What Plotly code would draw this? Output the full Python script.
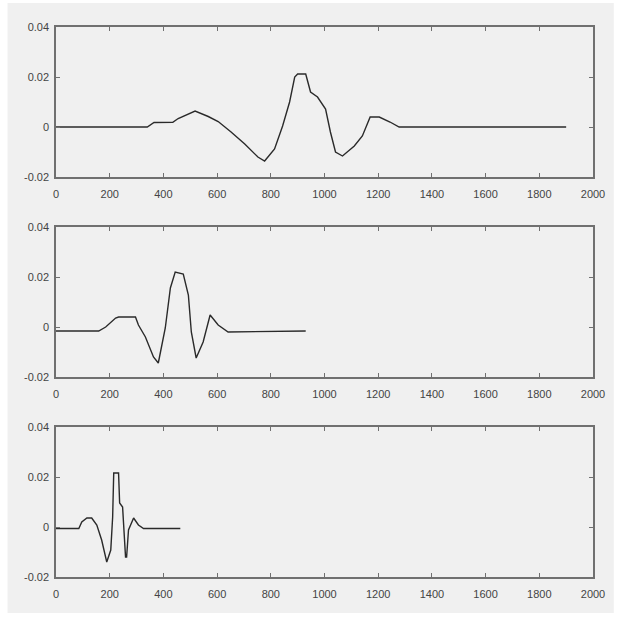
import plotly.graph_objects as go
from plotly.subplots import make_subplots

# ---- data ----
top_x = [0, 340, 365, 435, 455, 518, 567, 604, 652, 703, 752, 777, 814, 844, 870, 889,
         900, 930, 948, 974, 1004, 1022, 1041, 1067, 1111, 1141, 1170, 1204, 1244, 1278, 1900]
top_y = [0, 0, 0.0018, 0.0019, 0.0034, 0.0064, 0.0042, 0.0022, -0.002, -0.0068, -0.012,
         -0.0136, -0.0088, 0.0004, 0.010, 0.020, 0.0212, 0.0212, 0.014, 0.012, 0.0072,
         -0.002, -0.010, -0.0116, -0.0076, -0.0036, 0.004, 0.004, 0.002, 0, 0]

mid_x = [0, 159, 185, 222, 233, 296, 307, 333, 363, 381, 407, 426, 444, 474, 493, 504,
         522, 548, 574, 604, 641, 930]
mid_y = [-0.0016, -0.0016, 0.0, 0.0036, 0.004, 0.004, 0.0008, -0.004, -0.012, -0.0144,
         -0.0004, 0.0156, 0.022, 0.0212, 0.0128, -0.002, -0.0124, -0.006, 0.0048, 0.0008,
         -0.002, -0.0016]

bot_x = [0, 85, 96, 115, 133, 152, 170, 189, 204, 211, 215, 233, 237, 248, 259, 263,
         270, 289, 307, 326, 463]
bot_y = [-0.0006, -0.0006, 0.002, 0.0036, 0.0036, 0.0008, -0.0052, -0.014, -0.0092,
         0.004, 0.0216, 0.0216, 0.0096, 0.008, -0.012, -0.012, -0.0012, 0.0036, 0.0008,
         -0.0006, -0.0006]

x_ticks = [0, 200, 400, 600, 800, 1000, 1200, 1400, 1600, 1800, 2000]
x_ticklabels = [str(v) for v in x_ticks]
y_ticks = [-0.02, 0, 0.02, 0.04]
y_ticklabels = ["-0.02", "0", "0.02", "0.04"]

series = [(top_x, top_y), (mid_x, mid_y), (bot_x, bot_y)]

fig = make_subplots(rows=3, cols=1, vertical_spacing=0.0909)

for i, (xs, ys) in enumerate(series, start=1):
    fig.add_trace(go.Scatter(x=xs, y=ys, mode="lines",
                             line=dict(color="#2a2a2a", width=1.4),
                             showlegend=False, hoverinfo="skip"), row=i, col=1)

domains = [[400 / 550, 1.0], [200 / 550, 350 / 550], [0.0, 150 / 550]]
axis_style = dict(showgrid=False, zeroline=False, showline=True, linecolor="#707070",
                  linewidth=1.5, mirror="allticks", ticks="inside", ticklen=4,
                  tickcolor="#707070", tickwidth=1.2,
                  tickfont=dict(family="Liberation Sans", size=11, color="#444444"))
for i in range(1, 4):
    fig.update_xaxes(range=[0, 2000], tickvals=x_ticks, ticktext=x_ticklabels,
                     ticklabelstandoff=6, row=i, col=1, **axis_style)
    fig.update_yaxes(range=[-0.02, 0.04], tickvals=y_ticks, ticktext=y_ticklabels,
                     domain=domains[i - 1], ticklabelstandoff=3, row=i, col=1, **axis_style)

fig.add_shape(type="rect", xref="paper", yref="paper",
              x0=(7 - 56) / 543, x1=(620 - 56) / 543,
              y0=(577 - 613) / 550, y1=(577 - 3) / 550,
              fillcolor="#f0f0f0", line=dict(width=0), layer="below")

fig.update_layout(width=617, height=625,
                  margin=dict(l=56, r=18, t=27, b=48),
                  paper_bgcolor="#ffffff", plot_bgcolor="rgba(0,0,0,0)")

fig.write_html("out.html")
